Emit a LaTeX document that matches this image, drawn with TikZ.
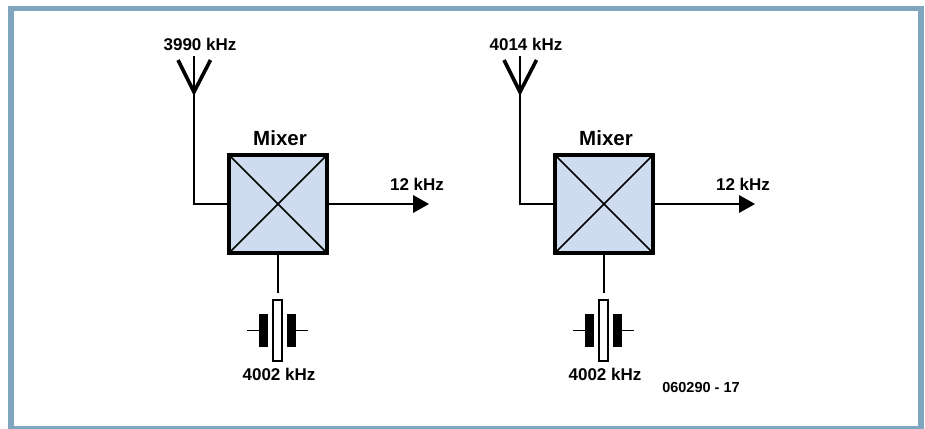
\documentclass[tikz,border=0pt]{standalone}
\usepackage{fontspec}
\setmainfont{Liberation Sans}[BoldFont={Liberation Sans Bold}]
\definecolor{framec}{HTML}{7FA6BE}
\definecolor{mixfill}{HTML}{CFDBEE}
\tikzset{
  lab/.style={inner sep=0pt,font=\bfseries\fontsize{#1}{#1}\selectfont,text=black},
  wire/.style={draw=black,line width=1.7pt},
  mixbox/.style={fill=mixfill,minimum size=98pt,inner sep=0pt,rectangle},
  plate/.style={fill=black,draw=none,minimum width=9pt,minimum height=33pt,inner sep=0pt,rectangle},
  xtal/.style={draw=black,fill=white,line width=1.5pt,minimum width=9pt,minimum height=61pt,inner sep=0pt,rectangle},
  antarm/.style={draw=black,line width=3.6pt,line cap=butt},
  tip/.style={fill=black,draw=none}
}
\begin{document}
\begin{tikzpicture}[x=1pt,y=-1pt]
\path[use as bounding box] (0,0) rectangle (925,428);
\fill[white] (0,0) rectangle (925,428);
\begin{scope}
\clip (0,0) rectangle (925,428);
\draw[framec,line width=5.4pt] (11.1,8.4) rectangle (921,429);
\end{scope}
\foreach \dx/\s/\rf in {0/a/3990,326/b/4014}{
  \begin{scope}[xshift=\dx pt]
    \node[lab=17] (rf\s) at (200,44.5) {\rf\ kHz};
    \node[mixbox] (mix\s) at (278,204) {};
    \node[lab=20.5] (title\s) at (280,138.5) {Mixer};
    \coordinate (anttop\s) at (194,56);
    \coordinate (antjoin\s) at (194,92);
    \coordinate (armL\s) at (178,60);
    \coordinate (armR\s) at (210.5,60);
    \coordinate (bend\s) at (194,204);
    \coordinate (arrowend\s) at (429,204);
    \coordinate (arrowbase\s) at (413,204);
    \coordinate (xtop\s) at (278,293);
    \coordinate (leadL\s) at (247,330.5);
    \coordinate (leadR\s) at (308,330.5);
    \node[lab=17] (out\s) at (417,184.5) {12 kHz};
    \node[xtal] (xt\s) at (277.5,330.5) {};
    \node[plate] (pl\s) at (263.5,330.5) {};
    \node[plate] (pr\s) at (291.5,330.5) {};
    \node[lab=17] (lo\s) at (279,374.5) {4002 kHz};
    \draw[wire] (anttop\s) -- (antjoin\s) -- (bend\s) -- (mix\s.west);
    \draw[antarm,line join=miter] (armL\s) -- (antjoin\s) -- (armR\s);
    \draw[wire] (mix\s.east) -- (arrowbase\s);
    \fill[tip] (arrowend\s) -- (413,195) -- (413,213) -- cycle;
    \draw[wire] (mix\s.south) -- (xtop\s);
    \draw[wire] (leadL\s) -- (pl\s.west);
    \draw[wire] (pr\s.east) -- (leadR\s);
    \draw[wire] (mix\s.north west) -- (mix\s.south east);
    \draw[wire] (mix\s.north east) -- (mix\s.south west);
    \draw[draw=black,line width=4pt] (mix\s.north west) rectangle (mix\s.south east);
  \end{scope}
}
\node[lab=14.5] (code) at (701,387.5) {060290 - 17};
\end{tikzpicture}
\end{document}
